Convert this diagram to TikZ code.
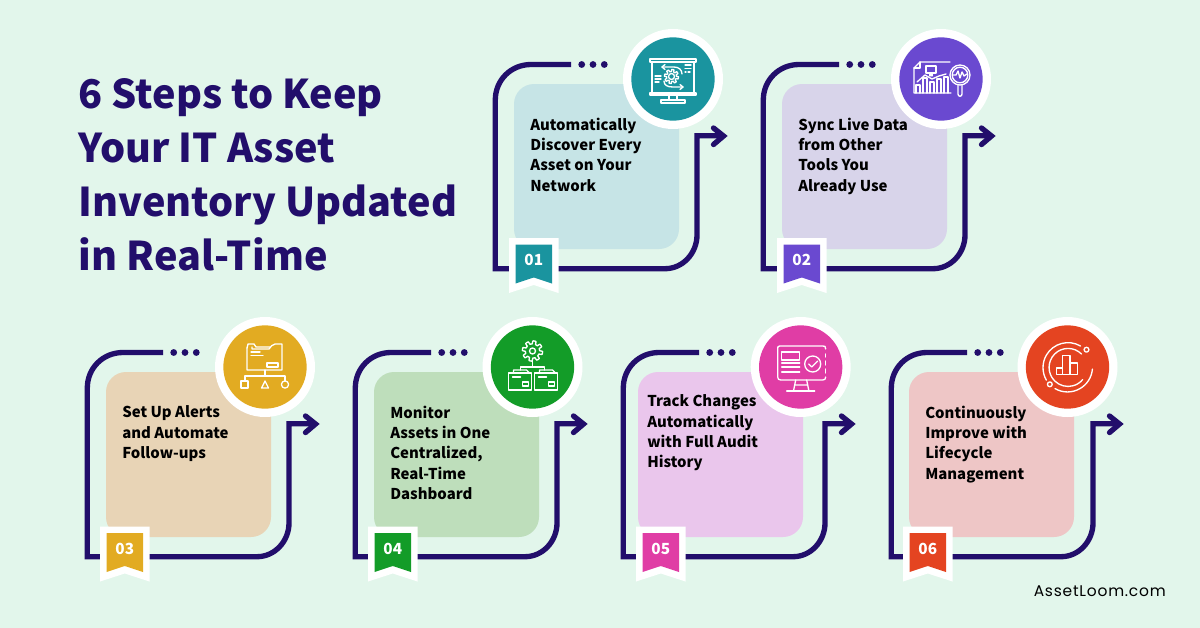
\documentclass[tikz,border=0pt]{standalone}
\usepackage{fontspec}
\setmainfont{Noto Sans CJK JP}
\newfontfamily\footfont[LetterSpace=5]{Poppins}
\usetikzlibrary{arrows.meta}
\definecolor{bgc}{HTML}{E2F6EB}
\definecolor{navy}{HTML}{220E6B}
\definecolor{ca}{HTML}{1A949F}\definecolor{pa}{HTML}{C6E4E6}
\definecolor{cb}{HTML}{6A49D0}\definecolor{pb}{HTML}{D8D4EA}
\definecolor{cc}{HTML}{E2AB22}\definecolor{pc}{HTML}{E8D4B6}
\definecolor{cd}{HTML}{139C28}\definecolor{pd}{HTML}{BEDEBB}
\definecolor{ce}{HTML}{E03DA5}\definecolor{pe}{HTML}{EAC6EC}
\definecolor{cf}{HTML}{E44421}\definecolor{pf}{HTML}{EEC6C6}
\tikzset{
  looppath/.style={draw=navy,line width=4pt,line cap=butt,line join=miter},
  panelbox/.style={fill=#1,minimum width=123.75pt,minimum height=123.75pt,rounded corners=15pt,inner sep=0,draw=none},
  bodytext/.style={anchor=north west,inner sep=0,align=left,font=\bfseries\fontsize{11.2}{15.3}\selectfont,text=black},
  ring/.style={fill=white,minimum size=75pt,circle,inner sep=0},
  disc/.style={fill=#1,minimum size=62.5pt,circle,inner sep=0},
  numtext/.style={text=white,inner sep=0,font=\bfseries\fontsize{11.5}{14}\selectfont},
  titletext/.style={anchor=base west,inner sep=0,text=navy,font=\bfseries\fontsize{29.7}{40}\selectfont},
  icon/.style={draw=white,line width=1pt,line join=round,line cap=round,fill=none}
}
% #1 id, #2 dx, #3 dy
\newcommand{\looparrow}[3]{%
  \begin{scope}[shift={(#2,#3)}]
    \coordinate (ls#1) at (571,64.5);
    \coordinate (le#1) at (722,135.8);
    \path[looppath] (ls#1) -- (531,64.5) .. controls (511,64.5) and (495.3,80) .. (495.3,100)
      -- (495.3,268.7) -- (665,268.7) .. controls (683,268.7) and (697,253) .. (697,235)
      -- (697,135.8) -- (le#1);
    \path[looppath,line cap=round,line join=miter] (713.5,128) -- (723.5,136) -- (713.5,144.5);
    \fill[navy] (581.7,64.5) circle[radius=3.4] (593,64.5) circle[radius=3.4] (604.3,64.5) circle[radius=3.4];
  \end{scope}}
% #1 id, #2 left x of panel, #3 top y, #4 colour
\newcommand{\panelat}[4]{\node[panelbox=#4] (p#1) at (#2+82.5,#3+82.5) {};}
% #1 id, #2 left x, #3 top y of badge, #4 colour, #5 number
\newcommand{\badgeat}[5]{%
  \begin{scope}[shift={(#2,#3)}]
    \fill[white] (0,0) -- (49.5,0) -- (49.5,55) -- (24.75,47) -- (0,55) -- cycle;
    \fill[#4] (6.5,6.5) -- (43,6.5) -- (43,45.5) -- (24.75,39.5) -- (6.5,45.5) -- cycle;
    \node[numtext] (n#1) at (24.75,22) {#5};
  \end{scope}}
% #1 id, #2 x, #3 y, #4 colour
\newcommand{\discat}[4]{%
  \node[ring] (r#1) at (#2,#3) {};
  \node[disc=#4] (c#1) at (#2,#3) {};}
\newcommand{\gearshape}[3]{% centre x, y, radius
  \draw[icon] plot[samples=161,domain=0:360,variable=\t] ({#1+(#3+0.18*#3*min(1,max(-1,3*sin(8*\t))))*cos(\t)},{#2+(#3+0.18*#3*min(1,max(-1,3*sin(8*\t))))*sin(\t)}) -- cycle;}
\begin{document}
\begin{tikzpicture}[x=0.75pt,y=-0.75pt]
\useasboundingbox (0,0) rectangle (1200,628);
\fill[bgc] (0,0) rectangle (1200,628);
% title
\node[titletext] (t1) at (78.5,108.5) {6 Steps to Keep};
\node[titletext] (t2) at (78.5,162.7) {Your IT Asset};
\node[titletext] (t3) at (78.5,216.4) {Inventory Updated};
\node[titletext] (t4) at (78.5,270.5) {in Real-Time};
% loops
\looparrow{1}{0}{0}
\looparrow{2}{268}{0}
\looparrow{3}{-408}{288}
\looparrow{4}{-140}{288}
\looparrow{5}{128}{288}
\looparrow{6}{396}{288}
% panels
\panelat{1}{514}{84}{pa}
\panelat{2}{782}{84}{pb}
\panelat{3}{106}{372}{pc}
\panelat{4}{374}{372}{pd}
\panelat{5}{638}{372}{pe}
\panelat{6}{909}{372}{pf}
% text
\node[bodytext] (x1) at (530,117.5) {Automatically\\Discover Every\\Asset on Your\\Network};
\node[bodytext] (x2) at (798,117.5) {Sync Live Data\\from Other\\Tools You\\Already Use};
\node[bodytext] (x3) at (122,405.5) {Set Up Alerts\\and Automate\\Follow-ups};
\node[bodytext] (x4) at (390,405.5) {Monitor\\Assets in One\\Centralized,\\Real-Time\\Dashboard};
\node[bodytext] (x5) at (647,394.5) {Track Changes\\Automatically\\with Full Audit\\History};
\node[bodytext] (x6) at (925,405.5) {Continuously\\Improve with\\Lifecycle\\Management};
% discs
\discat{1}{673}{79}{ca}
\discat{2}{941}{79}{cb}
\discat{3}{265}{367}{cc}
\discat{4}{532.5}{367}{cd}
\discat{5}{800.7}{367}{ce}
\discat{6}{1067.5}{367}{cf}
% badges
\badgeat{1}{509}{238}{ca}{01}
\badgeat{2}{777}{238}{cb}{02}
\badgeat{3}{100}{526.5}{cc}{03}
\badgeat{4}{368}{526.5}{cd}{04}
\badgeat{5}{636}{526.5}{ce}{05}
\badgeat{6}{903}{526.5}{cf}{06}
% icon 1
\begin{scope}[shift={(673,79)}]
  \draw[icon] (-23,-20) rectangle (23,-17);
  \draw[icon] (-21,-17) -- (-21,14) (21,-17) -- (21,14);
  \draw[icon] (-23,14) rectangle (23,16);
  \draw[icon] (-4,16) -- (-4,21) (4,16) -- (4,21);
  \draw[icon] (-12,21) rectangle (12,24);
  \gearshape{-1.5}{-2.5}{6}
  \draw[icon] (-1.5,-2.5) circle[radius=3];
  \draw[icon] (9,-5) .. controls (9,-9) and (6,-12) .. (1,-12) -- (-11,-12);
  \draw[icon] (-8,-14.5) -- (-11,-12) -- (-8,-9.5);
  \draw[icon] (-9,2) .. controls (-9,6) and (-6,8) .. (0,8) -- (10,8);
  \draw[icon] (7,5.5) -- (10,8) -- (7,10.5);
  \draw[icon] (-18,-3) -- (-12,-3) (-18,0) -- (-12,0) (-18,3) -- (-14,3);
  \draw[icon] (12,-14) -- (18,-14) (12,-10.5) -- (18,-10.5) (12,-7) -- (13,-7) (15,-7) -- (17,-7);
\end{scope}
% icon 2
\begin{scope}[shift={(941,79)}]
  \draw[icon] (-21,-17) -- (9,-17) (-21,-17) -- (-27,-11) -- (-27,14) -- (10,14);
  \draw[icon] (-21,-17) -- (-21,-11) -- (-27,-11);
  \draw[icon] (-15,-13) rectangle (-5,-6);
  \draw[icon] (-11,-6) -- (-11,-3) (-9,-6) -- (-9,-3);
  \draw[icon] (-25,14) -- (-25,6) -- (-21,6) -- (-21,14);
  \draw[icon] (-18,14) -- (-18,-1) -- (-14,-1) -- (-14,14);
  \draw[icon] (-11,14) -- (-11,3) -- (-7,3) -- (-7,14);
  \draw[icon] (-4,14) -- (-4,0) -- (0,0) -- (0,14);
  \draw[icon] (3,14) -- (3,-2) -- (7,-2) -- (7,14);
  \draw[icon] (-24,3) -- (-16,-4) -- (-9,0) -- (-2,-3) -- (5,-5);
  \draw[icon,fill=cb] (19,-4) circle[radius=10];
  \draw[icon] (19,-4) circle[radius=7.8];
  \draw[icon] (12,-4) -- (15,-4) -- (17,-8) -- (19,-1) -- (21,-7) -- (23,-3) -- (26,-5);
  \draw[icon] (17,6) -- (17,15) .. controls (17,18) and (21,18) .. (21,15) -- (21,6);
\end{scope}
% icon 3
\begin{scope}[shift={(265,367)}]
  \draw[icon] (-18,-19) -- (-18,3) -- (17,3) -- (17,-23) -- (10,-23) .. controls (7,-23) and (6,-20) .. (4,-18) -- (-13,-18) -- (-13,-20);
  \draw[icon] (-18,-19) -- (-17,-23) -- (-11,-23) -- (-9,-20) -- (5,-20);
  \draw[icon] (-14,-15) -- (-5,-15) (-14,-11.5) -- (-2,-11.5);
  \draw[icon] (2,-4) rectangle (13,0);
  \draw[icon] (0,3) -- (0,9) (-20,14) -- (-20,9) -- (20,9) -- (20,14);
  \draw[icon] (-24,14) rectangle (-17,21);
  \draw[icon] (0,14) -- (3.5,21) -- (-3.5,21) -- cycle;
  \draw[icon] (20,17.5) circle[radius=3.6];
\end{scope}
% icon 4
\begin{scope}[shift={(532.5,367)}]
  \gearshape{0}{-16}{8.6}
  \draw[icon] (0,-16) circle[radius=3];
  \draw[icon] (0,-6) -- (0,0) (-12,3) -- (-12,0) -- (12,0) -- (12,3);
  \draw[icon] (-24,6) rectangle (-1,23);
  \draw[icon] (-19,6) -- (-19,3) -- (-6,3) -- (-3,6);
  \draw[icon] (-10,15) rectangle (-4,19);
  \draw[icon] (-20,10) -- (-12,10);
  \draw[icon] (2,6) rectangle (25,23);
  \draw[icon] (7,6) -- (7,3) -- (20,3) -- (23,6);
  \draw[icon] (16,15) rectangle (22,19);
  \draw[icon] (6,10) -- (14,10);
\end{scope}
% icon 5
\begin{scope}[shift={(800.7,367)}]
  \draw[icon] (25,-18) .. controls (25,-21) and (24,-21) .. (22,-21) -- (-21,-21) .. controls (-23,-21) and (-23,-20) .. (-23,-18) -- (-23,10) .. controls (-23,12) and (-22,13) .. (-20,13) -- (22,13) .. controls (24,13) and (25,12) .. (25,10);
  \draw[icon] (25,-13) -- (25,-10) (25,-6) -- (25,-2) (25,2) -- (25,6);
  \draw[icon] (-19,-15) rectangle (-1,-7);
  \draw[icon] (-19,-4) -- (-1,-4) (-19,0) -- (-1,0) (-19,5) -- (-1,5);
  \draw[icon] (12,-3) circle[radius=8];
  \draw[icon] (8,-3) -- (11,0) -- (17,-6);
  \draw[icon] (-5,13) -- (-7,23) (6,13) -- (8,23) (-5,18) -- (6,18);
  \draw[icon] (-14,24) -- (14,24);
\end{scope}
% icon 6
\begin{scope}[shift={(1067.5,367)}]
  \draw[icon] (-10.7,7.6) rectangle (-5,1);
  \draw[icon] (-5,7.6) rectangle (2.5,-11.7);
  \draw[icon] (2.5,7.6) rectangle (10.3,-4);
  \draw[icon] (14,-13) arc[start angle=-45,end angle=-320,radius=19];
  \draw[icon] (13,-21) arc[start angle=-60,end angle=-210,radius=25];
  \draw[icon] (-12.5,21.6) arc[start angle=120,end angle=5,radius=25];
  \draw[icon] (19,-17.3) circle[radius=2.4];
  \draw[icon] (-17.7,17.3) circle[radius=2.4];
\end{scope}
% footer
\node[inner sep=0,anchor=base east,text=black,font=\footfont\fontsize{11.6}{14}\selectfont] (foot) at (1166,596) {AssetLoom.com};
\end{tikzpicture}
\end{document}
